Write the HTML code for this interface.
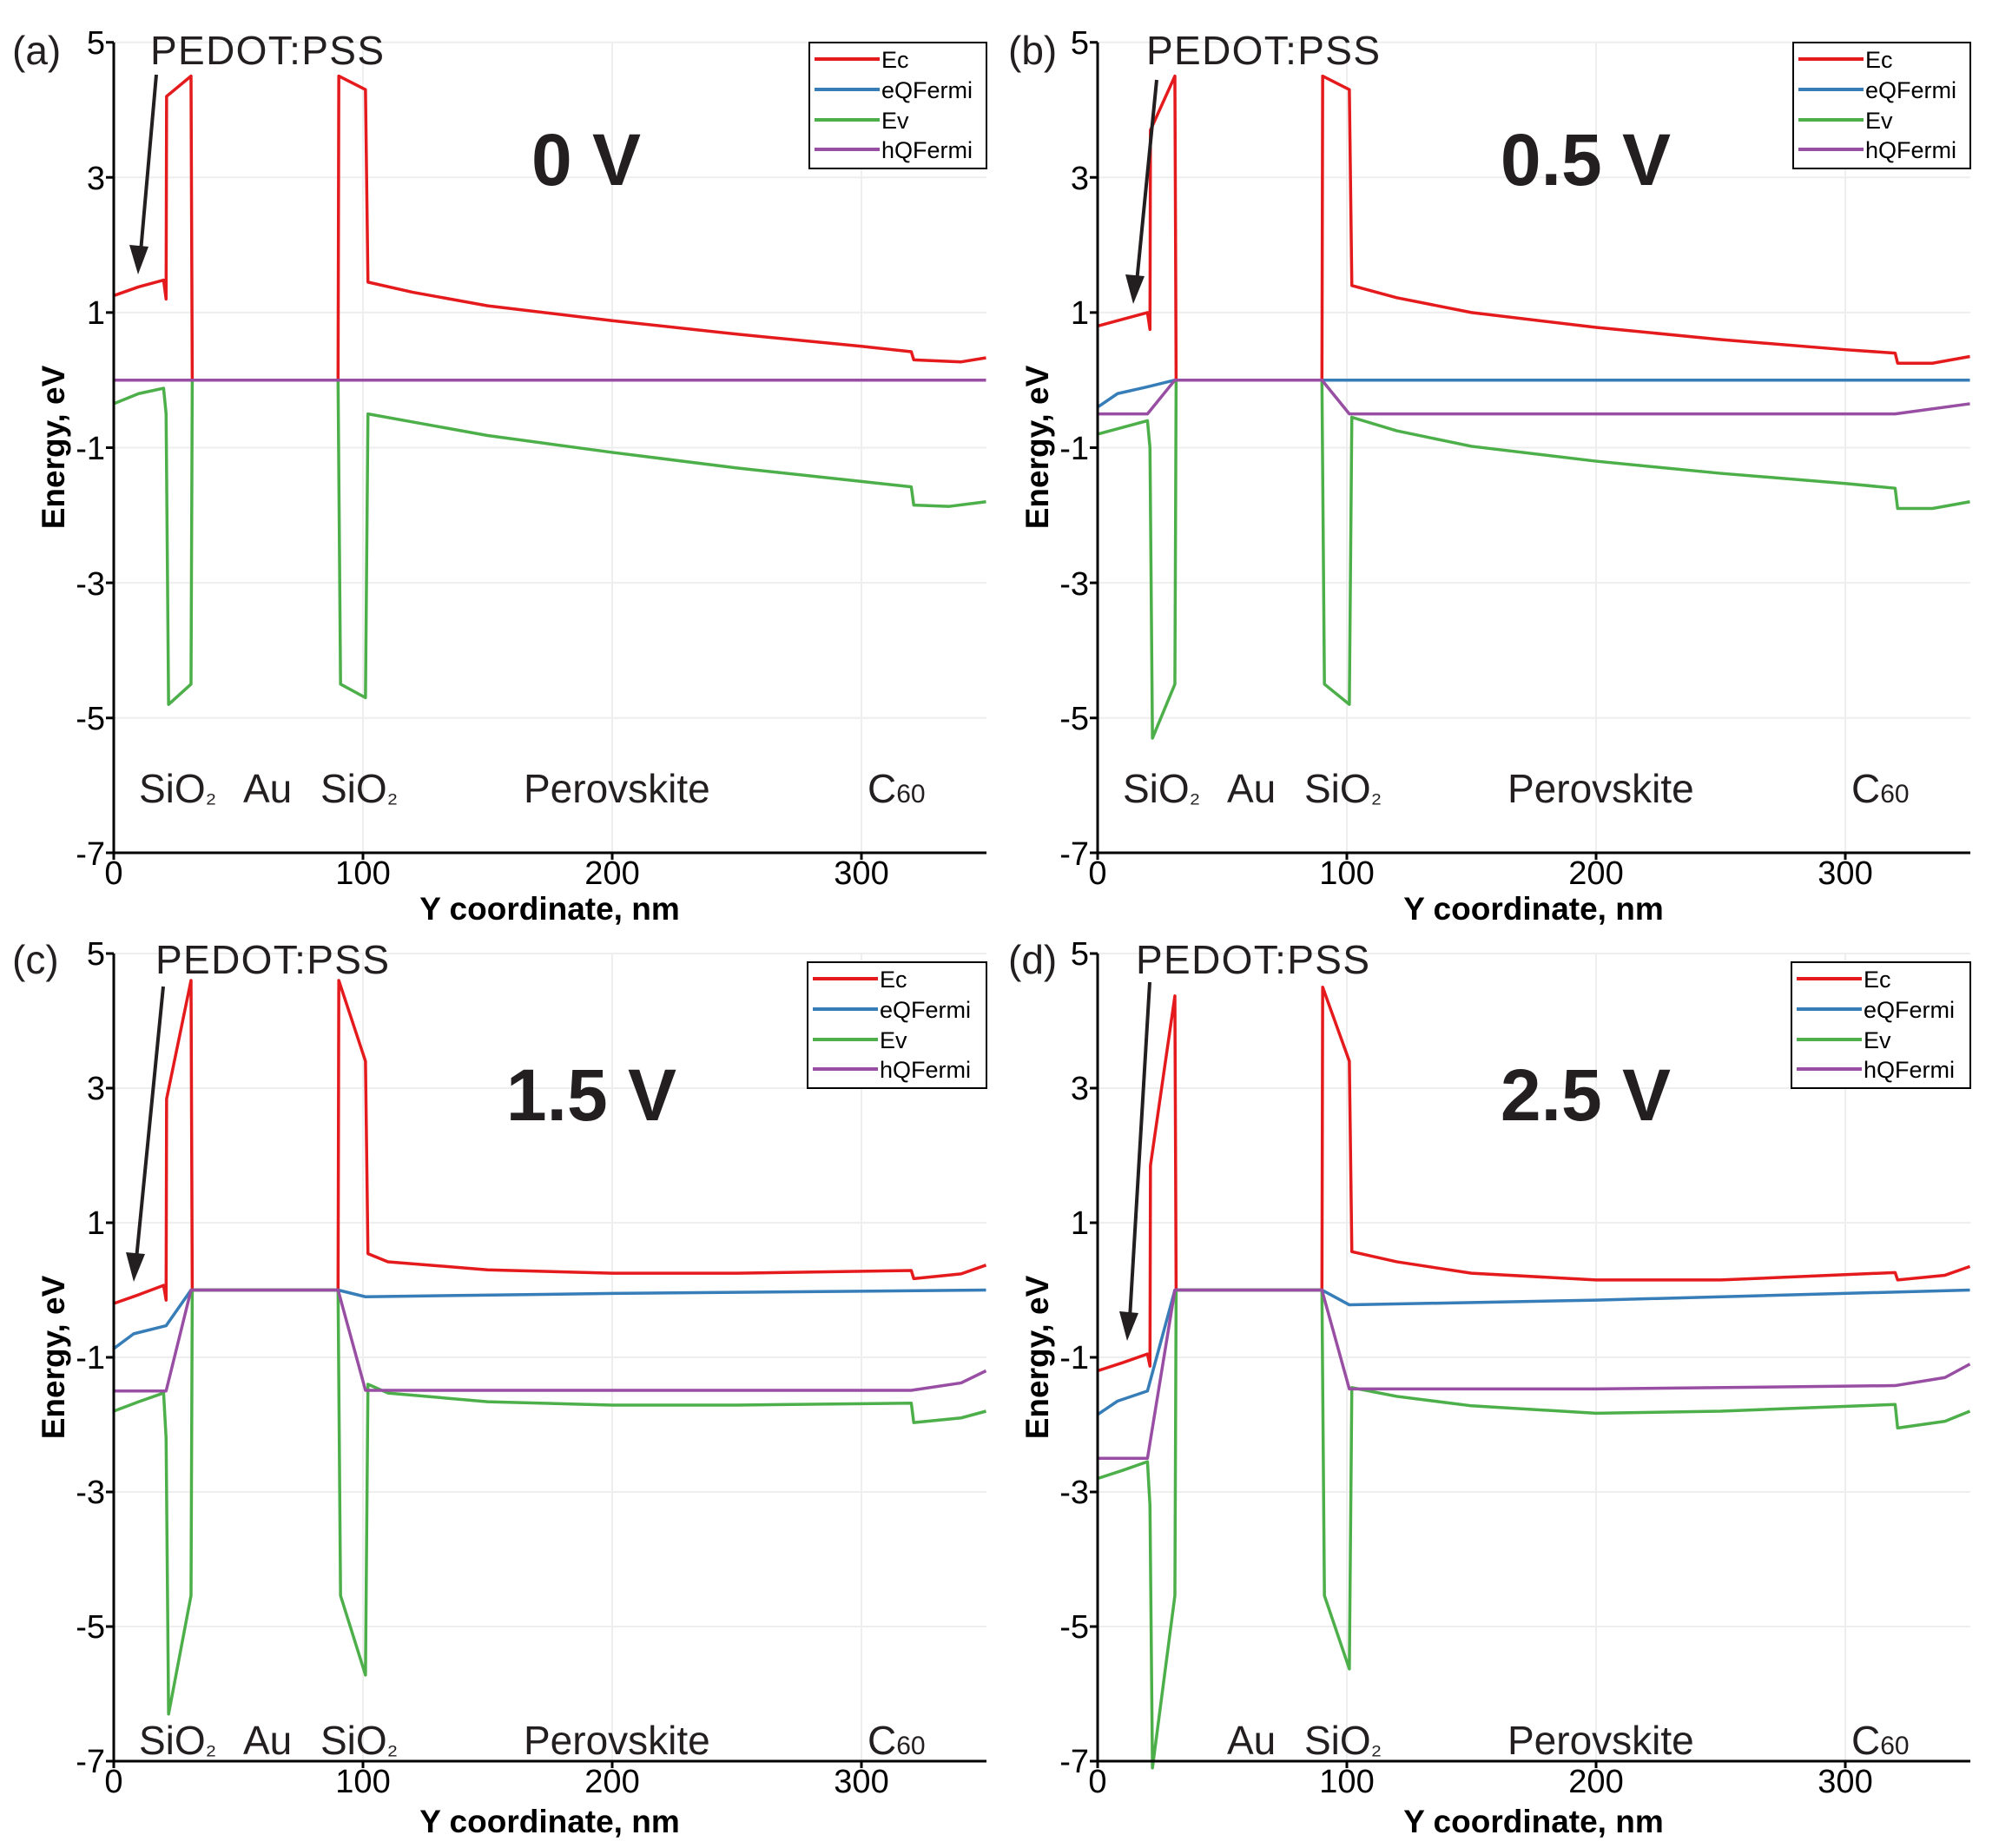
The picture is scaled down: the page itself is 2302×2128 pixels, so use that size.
<!DOCTYPE html>
<html><head><meta charset="utf-8"><style>
html,body{margin:0;padding:0;background:#fff;}
svg{display:block;font-family:"Liberation Sans",sans-serif;}
.d{fill:none;stroke-width:3.5;vector-effect:non-scaling-stroke;stroke-linejoin:round}
.ec{stroke:#e41a1c}.eq{stroke:#377eb8}.ev{stroke:#4daf4a}.hq{stroke:#984ea3}
.g{stroke:#eeeeee;stroke-width:2}
.ax{stroke:#000;stroke-width:3;fill:none}
.tk{font-size:38px;fill:#000}
.lab{font-size:37px;font-weight:bold;fill:#000}
.reg{font-size:46px;fill:#231f20}
.ttl{font-size:84px;font-weight:bold;fill:#231f20}
.leg{font-size:27px;fill:#000}
</style></head><body>
<svg width="2302" height="2128" viewBox="0 0 2302 2128" xmlns="http://www.w3.org/2000/svg">

<!-- PANEL A -->
<g>
 <g class="g">
  <line x1="131" y1="48.7" x2="1136" y2="48.7"/><line x1="131" y1="204.3" x2="1136" y2="204.3"/>
  <line x1="131" y1="359.9" x2="1136" y2="359.9"/><line x1="131" y1="515.5" x2="1136" y2="515.5"/>
  <line x1="131" y1="671.1" x2="1136" y2="671.1"/><line x1="131" y1="826.7" x2="1136" y2="826.7"/>
  <line x1="418" y1="48.7" x2="418" y2="982"/><line x1="705" y1="48.7" x2="705" y2="982"/><line x1="992" y1="48.7" x2="992" y2="982"/>
 </g>
 <g transform="matrix(2.87 0 0 -77.8 131 437.7)">
  <polyline class="d eq" points="0,0 350,0"/>
  <polyline class="d ec" points="0,1.25 10,1.38 20,1.48 21,1.2 21.2,4.2 31,4.5 31.5,0 90,0 90.3,4.5 101,4.3 102,1.45 120,1.3 150,1.1 200,0.88 250,0.68 300,0.5 320,0.42 321,0.3 340,0.27 350,0.33"/>
  <polyline class="d ev" points="0,-0.35 10,-0.2 20,-0.12 21,-0.5 22,-4.8 31,-4.5 31.5,0 90,0 91,-4.5 101,-4.7 102,-0.5 120,-0.62 150,-0.82 200,-1.07 250,-1.3 300,-1.5 320,-1.58 321,-1.85 335,-1.87 350,-1.8"/>
  <polyline class="d hq" points="0,0 350,0"/>
 </g>
 <path class="ax" d="M131,48.7 V982 H1136 M122,48.7 H131 M122,204.3 H131 M122,359.9 H131 M122,515.5 H131 M122,671.1 H131 M122,826.7 H131 M122,982 H131 M131,982 v8 M418,982 v8 M705,982 v8 M992,982 v8"/>
 <g class="tk" text-anchor="end">
  <text x="121" y="62">5</text><text x="121" y="218">3</text><text x="121" y="373">1</text>
  <text x="121" y="529">-1</text><text x="121" y="685">-3</text><text x="121" y="840">-5</text><text x="121" y="996">-7</text>
 </g>
 <g class="tk" text-anchor="middle">
  <text x="131" y="1018">0</text><text x="418" y="1018">100</text><text x="705" y="1018">200</text><text x="992" y="1018">300</text>
 </g>
 <text class="lab" x="633" y="1059" text-anchor="middle">Y coordinate, nm</text>
 <text class="lab" transform="translate(74,515) rotate(-90)" text-anchor="middle">Energy, eV</text>
 <g class="reg"><text x="160" y="924">SiO<tspan font-size="32">₂</tspan></text><text x="280" y="924">Au</text><text x="369" y="924">SiO<tspan font-size="32">₂</tspan></text><text x="603" y="924">Perovskite</text><text x="999" y="924">C<tspan font-size="30">60</tspan></text></g>
 <text class="ttl" x="675" y="213" text-anchor="middle">0 V</text>
 <text class="reg" x="173" y="74" textLength="269">PEDOT:PSS</text>
 <text class="reg" x="14" y="74" font-size="50">(a)</text>
 <line x1="180" y1="86" x2="162" y2="290" stroke="#231f20" stroke-width="4"/>
 <polygon points="159,316 149,282 171,284" fill="#231f20"/>
 <rect x="932" y="49" width="204" height="145" fill="#fff" stroke="#000" stroke-width="2"/>
 <g stroke-width="4"><line x1="938" y1="68" x2="1013" y2="68" stroke="#e41a1c"/><line x1="938" y1="103" x2="1013" y2="103" stroke="#377eb8"/><line x1="938" y1="138" x2="1013" y2="138" stroke="#4daf4a"/><line x1="938" y1="172" x2="1013" y2="172" stroke="#984ea3"/></g>
 <g class="leg"><text x="1015" y="78">Ec</text><text x="1015" y="113">eQFermi</text><text x="1015" y="148">Ev</text><text x="1015" y="182">hQFermi</text></g>
</g>

<!-- PANEL B -->
<g transform="translate(1133,0)">
 <g class="g">
  <line x1="131" y1="48.7" x2="1136" y2="48.7"/><line x1="131" y1="204.3" x2="1136" y2="204.3"/>
  <line x1="131" y1="359.9" x2="1136" y2="359.9"/><line x1="131" y1="515.5" x2="1136" y2="515.5"/>
  <line x1="131" y1="671.1" x2="1136" y2="671.1"/><line x1="131" y1="826.7" x2="1136" y2="826.7"/>
  <line x1="418" y1="48.7" x2="418" y2="982"/><line x1="705" y1="48.7" x2="705" y2="982"/><line x1="992" y1="48.7" x2="992" y2="982"/>
 </g>
 <g transform="matrix(2.87 0 0 -77.8 131 437.7)">
  <polyline class="d eq" points="0,-0.4 8,-0.2 20,-0.1 31,0 350,0"/>
  <polyline class="d ec" points="0,0.8 10,0.9 20,1.0 21,0.75 21.2,3.7 31,4.5 31.5,0 90,0 90.3,4.5 101,4.3 102,1.4 120,1.22 150,1.0 200,0.78 250,0.6 300,0.45 320,0.4 321,0.25 335,0.25 350,0.35"/>
  <polyline class="d ev" points="0,-0.8 10,-0.7 20,-0.6 21,-1.0 22,-5.3 31,-4.5 31.5,0 90,0 91,-4.5 101,-4.8 102,-0.55 120,-0.75 150,-0.98 200,-1.2 250,-1.38 300,-1.53 320,-1.6 321,-1.9 335,-1.9 350,-1.8"/>
  <polyline class="d hq" points="0,-0.5 20,-0.5 31,0 90,0 101,-0.5 320,-0.5 350,-0.35"/>
 </g>
 <path class="ax" d="M131,48.7 V982 H1136 M122,48.7 H131 M122,204.3 H131 M122,359.9 H131 M122,515.5 H131 M122,671.1 H131 M122,826.7 H131 M122,982 H131 M131,982 v8 M418,982 v8 M705,982 v8 M992,982 v8"/>
 <g class="tk" text-anchor="end">
  <text x="121" y="62">5</text><text x="121" y="218">3</text><text x="121" y="373">1</text>
  <text x="121" y="529">-1</text><text x="121" y="685">-3</text><text x="121" y="840">-5</text><text x="121" y="996">-7</text>
 </g>
 <g class="tk" text-anchor="middle">
  <text x="131" y="1018">0</text><text x="418" y="1018">100</text><text x="705" y="1018">200</text><text x="992" y="1018">300</text>
 </g>
 <text class="lab" x="633" y="1059" text-anchor="middle">Y coordinate, nm</text>
 <text class="lab" transform="translate(74,515) rotate(-90)" text-anchor="middle">Energy, eV</text>
 <g class="reg"><text x="160" y="924">SiO<tspan font-size="32">₂</tspan></text><text x="280" y="924">Au</text><text x="369" y="924">SiO<tspan font-size="32">₂</tspan></text><text x="603" y="924">Perovskite</text><text x="999" y="924">C<tspan font-size="30">60</tspan></text></g>
 <text class="ttl" x="693" y="213" text-anchor="middle">0.5 V</text>
 <text class="reg" x="187" y="74" textLength="269">PEDOT:PSS</text>
 <text class="reg" x="28" y="74" font-size="50">(b)</text>
 <line x1="199" y1="92" x2="176" y2="325" stroke="#231f20" stroke-width="4"/>
 <polygon points="172,350 163,316 185,318" fill="#231f20"/>
 <rect x="932" y="49" width="204" height="145" fill="#fff" stroke="#000" stroke-width="2"/>
 <g stroke-width="4"><line x1="938" y1="68" x2="1013" y2="68" stroke="#e41a1c"/><line x1="938" y1="103" x2="1013" y2="103" stroke="#377eb8"/><line x1="938" y1="138" x2="1013" y2="138" stroke="#4daf4a"/><line x1="938" y1="172" x2="1013" y2="172" stroke="#984ea3"/></g>
 <g class="leg"><text x="1015" y="78">Ec</text><text x="1015" y="113">eQFermi</text><text x="1015" y="148">Ev</text><text x="1015" y="182">hQFermi</text></g>
</g>

<!-- PANEL C -->
<g>
 <g class="g">
  <line x1="131" y1="1098" x2="1136" y2="1098"/><line x1="131" y1="1253" x2="1136" y2="1253"/>
  <line x1="131" y1="1408" x2="1136" y2="1408"/><line x1="131" y1="1563" x2="1136" y2="1563"/>
  <line x1="131" y1="1718" x2="1136" y2="1718"/><line x1="131" y1="1873" x2="1136" y2="1873"/>
  <line x1="418" y1="1098" x2="418" y2="2028"/><line x1="705" y1="1098" x2="705" y2="2028"/><line x1="992" y1="1098" x2="992" y2="2028"/>
 </g>
 <g transform="matrix(2.87 0 0 -77.5 131 1485.5)">
  <polyline class="d ec" points="0,-0.2 10,-0.07 20,0.07 21,-0.15 21.2,2.84 31,4.6 31.5,0 90,0 90.3,4.6 101,3.4 102,0.54 110,0.42 150,0.3 200,0.25 250,0.25 320,0.29 321,0.17 340,0.24 350,0.37"/>
  <polyline class="d eq" points="0,-0.87 8,-0.65 21,-0.53 31,0 90,0 101,-0.1 200,-0.05 350,0"/>
  <polyline class="d ev" points="0,-1.8 10,-1.66 20,-1.53 21,-2.2 22,-6.3 31,-4.54 31.5,0 90,0 91,-4.54 101,-5.72 102,-1.4 110,-1.53 150,-1.66 200,-1.71 250,-1.71 320,-1.68 321,-1.97 340,-1.9 350,-1.8"/>
  <polyline class="d hq" points="0,-1.5 21,-1.5 31,0 90,0 101,-1.49 320,-1.49 340,-1.38 350,-1.2"/>
 </g>
 <path class="ax" d="M131,1098 V2028 H1136 M122,1098 H131 M122,1253 H131 M122,1408 H131 M122,1563 H131 M122,1718 H131 M122,1873 H131 M122,2028 H131 M131,2028 v8 M418,2028 v8 M705,2028 v8 M992,2028 v8"/>
 <g class="tk" text-anchor="end">
  <text x="121" y="1111">5</text><text x="121" y="1266">3</text><text x="121" y="1421">1</text>
  <text x="121" y="1576">-1</text><text x="121" y="1731">-3</text><text x="121" y="1886">-5</text><text x="121" y="2041">-7</text>
 </g>
 <g class="tk" text-anchor="middle">
  <text x="131" y="2064">0</text><text x="418" y="2064">100</text><text x="705" y="2064">200</text><text x="992" y="2064">300</text>
 </g>
 <text class="lab" x="633" y="2110" text-anchor="middle">Y coordinate, nm</text>
 <text class="lab" transform="translate(74,1563) rotate(-90)" text-anchor="middle">Energy, eV</text>
 <g class="reg"><text x="160" y="2020">SiO<tspan font-size="32">₂</tspan></text><text x="280" y="2020">Au</text><text x="369" y="2020">SiO<tspan font-size="32">₂</tspan></text><text x="603" y="2020">Perovskite</text><text x="999" y="2020">C<tspan font-size="30">60</tspan></text></g>
 <text class="ttl" x="681" y="1290" text-anchor="middle">1.5 V</text>
 <text class="reg" x="179" y="1121" textLength="269">PEDOT:PSS</text>
 <text class="reg" x="14" y="1121" font-size="50">(c)</text>
 <line x1="188" y1="1136" x2="157" y2="1450" stroke="#231f20" stroke-width="4"/>
 <polygon points="154,1476 145,1442 167,1444" fill="#231f20"/>
 <rect x="930" y="1108" width="206" height="145" fill="#fff" stroke="#000" stroke-width="2"/>
 <g stroke-width="4"><line x1="936" y1="1127" x2="1011" y2="1127" stroke="#e41a1c"/><line x1="936" y1="1162" x2="1011" y2="1162" stroke="#377eb8"/><line x1="936" y1="1197" x2="1011" y2="1197" stroke="#4daf4a"/><line x1="936" y1="1231" x2="1011" y2="1231" stroke="#984ea3"/></g>
 <g class="leg"><text x="1013" y="1137">Ec</text><text x="1013" y="1172">eQFermi</text><text x="1013" y="1207">Ev</text><text x="1013" y="1241">hQFermi</text></g>
</g>

<!-- PANEL D -->
<g transform="translate(1133,0)">
 <g class="g">
  <line x1="131" y1="1098" x2="1136" y2="1098"/><line x1="131" y1="1253" x2="1136" y2="1253"/>
  <line x1="131" y1="1408" x2="1136" y2="1408"/><line x1="131" y1="1563" x2="1136" y2="1563"/>
  <line x1="131" y1="1718" x2="1136" y2="1718"/><line x1="131" y1="1873" x2="1136" y2="1873"/>
  <line x1="418" y1="1098" x2="418" y2="2028"/><line x1="705" y1="1098" x2="705" y2="2028"/><line x1="992" y1="1098" x2="992" y2="2028"/>
 </g>
 <g transform="matrix(2.87 0 0 -77.5 131 1485.5)">
  <polyline class="d ec" points="0,-1.2 10,-1.08 20,-0.95 21,-1.13 21.2,1.85 31,4.37 31.5,0 90,0 90.3,4.5 101,3.4 102,0.57 120,0.42 150,0.25 200,0.15 250,0.15 320,0.26 321,0.15 340,0.22 350,0.35"/>
  <polyline class="d eq" points="0,-1.85 8,-1.65 20,-1.5 31,0 90,0 101,-0.22 200,-0.15 350,0"/>
  <polyline class="d ev" points="0,-2.8 10,-2.68 20,-2.55 21,-3.2 22,-7.1 31,-4.54 31.5,0 90,0 91,-4.54 101,-5.63 102,-1.45 120,-1.58 150,-1.72 200,-1.83 250,-1.8 320,-1.7 321,-2.05 340,-1.95 350,-1.8"/>
  <polyline class="d hq" points="0,-2.5 20,-2.5 31,0 90,0 101,-1.47 200,-1.47 320,-1.42 340,-1.3 350,-1.1"/>
 </g>
 <path class="ax" d="M131,1098 V2028 H1136 M122,1098 H131 M122,1253 H131 M122,1408 H131 M122,1563 H131 M122,1718 H131 M122,1873 H131 M122,2028 H131 M131,2028 v8 M418,2028 v8 M705,2028 v8 M992,2028 v8"/>
 <g class="tk" text-anchor="end">
  <text x="121" y="1111">5</text><text x="121" y="1266">3</text><text x="121" y="1421">1</text>
  <text x="121" y="1576">-1</text><text x="121" y="1731">-3</text><text x="121" y="1886">-5</text><text x="121" y="2041">-7</text>
 </g>
 <g class="tk" text-anchor="middle">
  <text x="131" y="2064">0</text><text x="418" y="2064">100</text><text x="705" y="2064">200</text><text x="992" y="2064">300</text>
 </g>
 <text class="lab" x="633" y="2110" text-anchor="middle">Y coordinate, nm</text>
 <text class="lab" transform="translate(74,1563) rotate(-90)" text-anchor="middle">Energy, eV</text>
 <g class="reg"><text x="280" y="2020">Au</text><text x="369" y="2020">SiO<tspan font-size="32">₂</tspan></text><text x="603" y="2020">Perovskite</text><text x="999" y="2020">C<tspan font-size="30">60</tspan></text></g>
 <text class="ttl" x="693" y="1290" text-anchor="middle">2.5 V</text>
 <text class="reg" x="175" y="1121" textLength="269">PEDOT:PSS</text>
 <text class="reg" x="28" y="1121" font-size="50">(d)</text>
 <line x1="191" y1="1131" x2="168" y2="1518" stroke="#231f20" stroke-width="4"/>
 <polygon points="165,1544 156,1510 178,1512" fill="#231f20"/>
 <rect x="930" y="1108" width="206" height="145" fill="#fff" stroke="#000" stroke-width="2"/>
 <g stroke-width="4"><line x1="936" y1="1127" x2="1011" y2="1127" stroke="#e41a1c"/><line x1="936" y1="1162" x2="1011" y2="1162" stroke="#377eb8"/><line x1="936" y1="1197" x2="1011" y2="1197" stroke="#4daf4a"/><line x1="936" y1="1231" x2="1011" y2="1231" stroke="#984ea3"/></g>
 <g class="leg"><text x="1013" y="1137">Ec</text><text x="1013" y="1172">eQFermi</text><text x="1013" y="1207">Ev</text><text x="1013" y="1241">hQFermi</text></g>
</g>
</svg>
</body></html>
